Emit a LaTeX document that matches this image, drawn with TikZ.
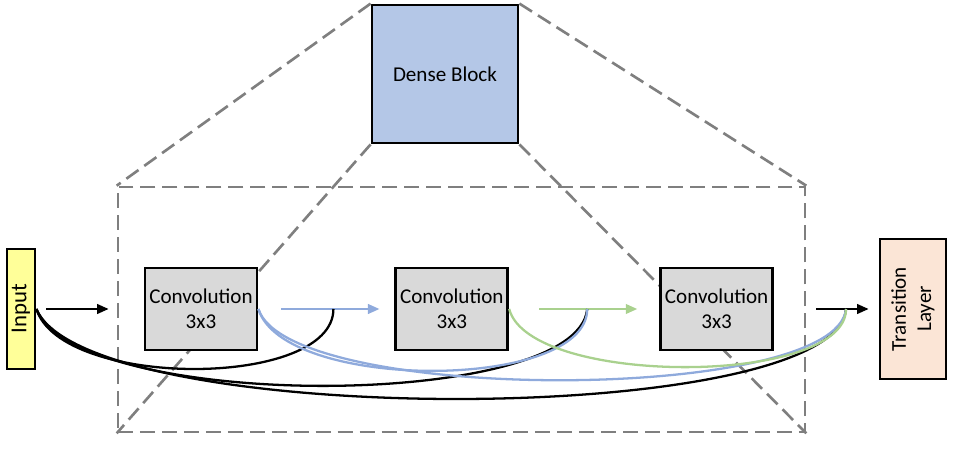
\documentclass[tikz,border=0pt]{standalone}
\usepackage{fontspec}
\setmainfont{Carlito}
\usetikzlibrary{positioning,arrows.meta}
\definecolor{denseblue}{HTML}{B4C7E7}
\definecolor{convgray}{HTML}{D9D9D9}
\definecolor{inputyellow}{HTML}{FFFF99}
\definecolor{transpeach}{HTML}{FBE5D6}
\definecolor{linkblue}{HTML}{8FAADC}
\definecolor{linkgreen}{HTML}{A9D18E}
\definecolor{zoomgray}{HTML}{7F7F7F}

\begin{document}
\begin{tikzpicture}[node distance=2.72cm, >={Triangle[length=6.5pt,width=5.5pt]},
        every node/.style={font=\fontsize{12}{14.4}\selectfont, align=center},
        box/.style={draw, line width=1.6pt, inner sep=0pt},
        conv/.style={box, fill=convgray, minimum width=2.24cm, minimum height=1.64cm},
        zoomline/.style={draw=zoomgray, line width=1.5pt, dash pattern=on 8.5pt off 4pt},
        link/.style={line width=1.3pt}]
        \useasboundingbox (0,0) rectangle (19.24,9);
        \node (db) [box, fill=denseblue, minimum width=2.92cm, minimum height=2.76cm] at (8.9,7.52) {Dense Block};
        \node (zoom) [zoomline, minimum width=13.74cm, minimum height=4.9cm] at (9.23,2.81) {};
        \draw[zoomline] (db.north west) -- (zoom.north west);
        \draw[zoomline] (db.north east) -- (zoom.north east);
        \draw[zoomline] (db.south west) -- (zoom.south west);
        \draw[zoomline] (db.south east) -- (zoom.south east);
        \node (c1) [conv] at (4.02,2.82) {Convolution\\3x3};
        \node (c2) [conv, right=of c1] {Convolution\\3x3};
        \node (c3) [conv, right=3cm of c2] {Convolution\\3x3};
        \node (in) [box, fill=inputyellow, rotate=90, minimum width=2.4cm, minimum height=0.56cm,
            font=\fontsize{13}{15}\selectfont] at (0.42,2.82) {Input};
        \node (tl) [box, fill=transpeach, rotate=90, minimum width=2.8cm, minimum height=1.32cm] at (18.26,2.82) {Transition\\Layer};
        \coordinate (m1) at ([xshift=1.5cm]c1.east);
        \coordinate (m2) at ([xshift=1.56cm]c2.east);
        \coordinate (m3) at ([xshift=1.44cm]c3.east);
        \draw[->, line width=1.1pt] ([xshift=0.2cm]in.south) -- ([xshift=-0.7cm]c1.west);
        \draw[->, line width=1.1pt, linkblue] ([xshift=0.46cm]c1.east) -- ([xshift=-0.3cm]c2.west);
        \draw[->, line width=1.1pt, linkgreen] ([xshift=0.6cm]c2.east) -- ([xshift=-0.44cm]c3.west);
        \draw[->, line width=1.1pt] ([xshift=0.84cm]c3.east) -- ([xshift=-0.2cm]tl.north);
        % skip connections
        \draw[link] (in.south) .. controls +(0.5,-1.6) and +(0,-1.6) .. (m1);
        \draw[link] (in.south) .. controls +(0.8,-2.05) and +(-0.2,-2.05) .. (m2);
        \draw[link] (in.south) .. controls +(1,-2.4) and +(-0.2,-2.4) .. (m3);
        \draw[link, linkblue] (c1.east) .. controls +(0.5,-1.65) and +(0,-1.65) .. (m2);
        \draw[link, linkblue] (c1.east) .. controls +(0.6,-1.9) and +(-0.2,-1.9) .. (m3);
        \draw[link, linkgreen] (c2.east) .. controls +(0.4,-1.55) and +(0,-1.55) .. (m3);
    \end{tikzpicture}
\end{document}
